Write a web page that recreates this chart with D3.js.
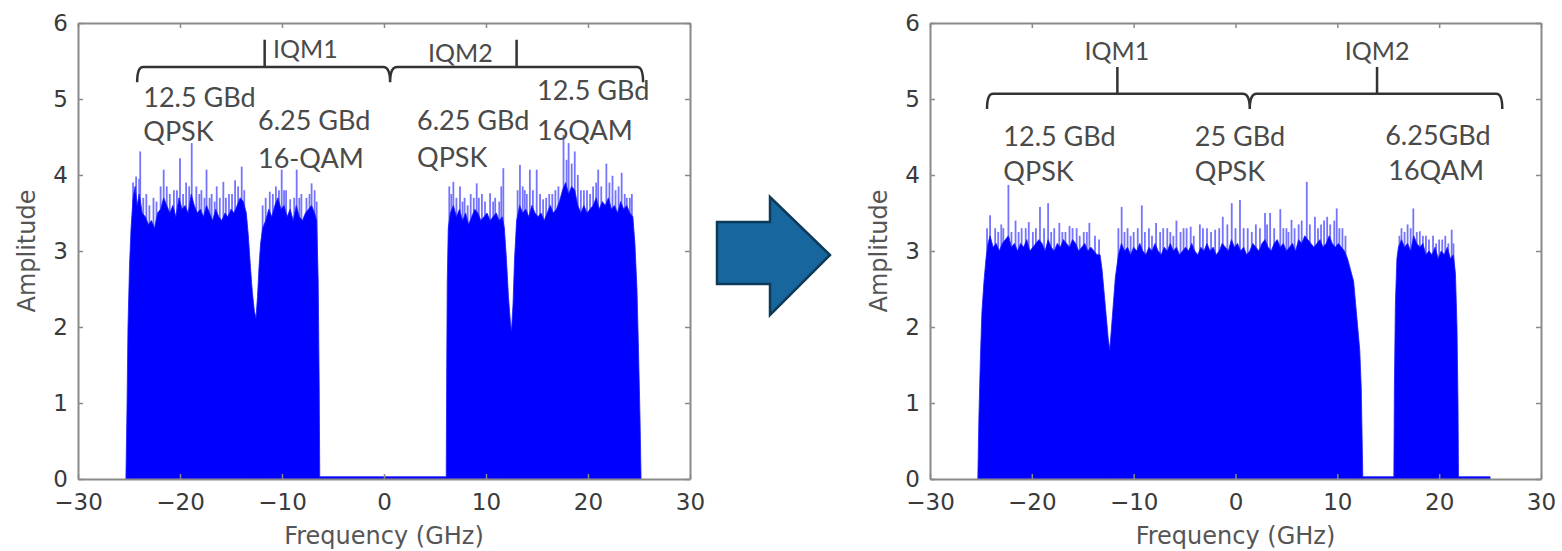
<!DOCTYPE html>
<html>
<head>
<meta charset="utf-8">
<script src="https://cdn.jsdelivr.net/npm/d3@7"></script>
<style>
  body { margin: 0; background: #fff; }
  svg { display: block; }
</style>
</head>
<body>
<div id="d3container"></div>
<script>
// axis ticks
var xTicks = [-30, -20, -10, 0, 10, 20, 30];
var yTicks = [0, 1, 2, 3, 4, 5, 6];

// left panel: spectrum body [GHz, amplitude]
var leftBody = [
    [-25.3,0.03],[-25.2,0.9],[-25.1,2.0],[-24.95,2.8],[-24.8,3.3],[-24.6,3.7],[-24.4,3.85],[-24.2,3.6],
    [-24.0,3.75],[-23.7,3.5],[-23.4,3.45],[-23.1,3.35],[-22.8,3.4],[-22.5,3.3],[-22.2,3.5],[-21.9,3.55],
    [-21.6,3.7],[-21.3,3.6],[-21.0,3.5],[-20.7,3.6],[-20.4,3.45],[-20.1,3.7],[-19.8,3.55],[-19.5,3.6],
    [-19.2,3.5],[-18.9,3.75],[-18.6,3.6],[-18.3,3.5],[-18.0,3.55],[-17.7,3.45],[-17.4,3.6],[-17.1,3.5],
    [-16.8,3.4],[-16.5,3.55],[-16.2,3.45],[-15.9,3.4],[-15.6,3.5],[-15.3,3.45],[-15.0,3.55],[-14.7,3.5],
    [-14.4,3.6],[-14.1,3.7],[-13.8,3.65],[-13.5,3.5],[-13.3,3.2],[-13.1,2.8],[-12.9,2.45],[-12.7,2.2],
    [-12.55,2.12],[-12.4,2.4],[-12.25,2.8],[-12.1,3.1],[-11.9,3.3],[-11.6,3.4],[-11.3,3.55],[-11.0,3.45],
    [-10.7,3.6],[-10.4,3.7],[-10.1,3.55],[-9.8,3.6],[-9.5,3.45],[-9.2,3.55],[-8.9,3.4],[-8.6,3.6],
    [-8.3,3.45],[-8.0,3.4],[-7.7,3.5],[-7.4,3.55],[-7.1,3.6],[-6.8,3.5],[-6.6,3.4],[-6.45,2.6],
    [-6.35,1.2],[-6.3,0.03],
    [6.1,0.03],[6.15,1.5],[6.2,2.6],[6.3,3.3],[6.5,3.5],[6.8,3.6],[7.1,3.45],[7.4,3.55],[7.7,3.4],
    [8.0,3.5],[8.3,3.35],[8.6,3.45],[8.9,3.55],[9.2,3.5],[9.5,3.4],[9.8,3.45],[10.1,3.5],[10.4,3.4],
    [10.7,3.45],[11.0,3.5],[11.3,3.4],[11.6,3.45],[11.8,3.3],[12.0,2.9],[12.2,2.4],[12.4,2.05],
    [12.5,1.95],[12.65,2.3],[12.8,2.9],[13.0,3.4],[13.3,3.6],[13.6,3.5],[13.9,3.55],[14.2,3.45],
    [14.5,3.6],[14.8,3.5],[15.1,3.45],[15.4,3.5],[15.7,3.4],[16.0,3.5],[16.3,3.6],[16.6,3.5],
    [16.9,3.55],[17.2,3.65],[17.5,3.8],[17.8,3.9],[18.1,3.75],[18.4,3.85],[18.7,3.8],[19.0,3.6],
    [19.3,3.5],[19.6,3.6],[19.9,3.5],[20.2,3.55],[20.5,3.6],[20.8,3.7],[21.1,3.55],[21.4,3.65],
    [21.7,3.6],[22.0,3.7],[22.3,3.55],[22.6,3.6],[22.9,3.5],[23.2,3.65],[23.5,3.55],[23.8,3.6],
    [24.1,3.5],[24.4,3.45],[24.6,3.1],[24.8,2.5],[24.95,1.7],[25.1,0.8],[25.2,0.03]
];

// left panel: narrow peaks above the body
var leftSpikes = [
    [-24.6,3.9],[-24.3,3.98],[-24.0,3.95],[-23.9,4.31],[-23.6,3.7],[-23.3,3.75],[-23.0,3.6],[-22.6,3.7],
    [-22.3,3.65],[-21.9,3.85],[-21.6,4.07],[-21.3,3.85],[-21.0,3.75],[-20.6,3.8],[-20.3,3.8],[-20.0,4.22],
    [-19.7,3.75],[-19.4,3.9],[-19.1,3.85],[-18.85,4.42],[-18.4,3.85],[-18.1,3.75],[-17.9,3.8],[-17.6,3.7],
    [-17.4,4.07],[-17.1,3.7],[-16.9,3.75],[-16.6,3.65],[-16.4,3.85],[-16.1,3.7],[-15.75,3.91],[-15.5,3.7],
    [-15.2,3.75],[-14.9,3.75],[-14.6,3.93],[-14.3,3.85],[-13.95,4.11],[-13.7,3.8],
    [-11.9,3.6],[-11.6,3.7],[-11.2,3.78],[-10.9,3.75],[-10.6,3.85],[-10.3,3.8],[-10.03,4.07],[-9.8,3.8],
    [-9.6,3.8],[-9.2,3.68],[-8.8,3.7],[-8.56,4.07],[-8.3,3.7],[-8.1,3.75],[-7.6,3.7],[-7.3,3.75],
    [-7.1,3.89],[-6.8,3.8],[-6.6,3.65],
    [6.4,3.85],[6.6,3.75],[6.8,3.91],[7.1,3.7],[7.45,3.85],[7.7,3.65],[7.9,3.7],[8.2,3.6],
    [8.5,3.75],[8.8,3.7],[9.09,3.89],[9.3,3.7],[9.6,3.75],[9.9,3.65],[10.4,3.76],[10.7,3.65],
    [10.9,3.7],[11.3,3.65],[11.5,3.85],[11.7,4.09],
    [13.1,3.8],[13.33,4.13],[13.6,3.85],[13.8,3.8],[14.0,3.75],[14.3,4.07],[14.6,3.8],[14.97,4.07],
    [15.3,3.75],[15.6,3.68],[15.9,3.7],[16.2,3.75],[16.5,3.75],[16.8,3.8],[17.1,3.85],[17.6,4.53],
    [17.9,4.2],[18.1,4.42],[18.4,4.15],[18.7,4.31],[19.0,4.0],[19.3,3.8],[19.6,3.8],[19.9,3.8],
    [20.2,3.75],[20.5,3.85],[20.8,3.9],[21.0,4.07],[21.3,3.85],[21.8,4.15],[22.1,3.9],[22.4,3.99],
    [22.7,3.8],[23.0,3.85],[23.3,4.03],[23.6,3.75],[23.8,3.7],[24.1,3.7],[24.3,3.75]
];

// right panel: spectrum body
var rightBody = [
    [-25.3,0.03],[-25.2,0.8],[-25.05,1.6],[-24.9,2.2],[-24.7,2.6],[-24.5,2.9],[-24.3,3.1],[-24.1,3.2],
    [-23.8,3.05],[-23.5,3.1],[-23.2,3.0],[-22.9,3.1],[-22.6,3.15],[-22.3,3.2],[-22.0,3.05],[-21.7,3.1],
    [-21.4,3.0],[-21.1,3.1],[-20.8,3.05],[-20.5,3.15],[-20.2,3.0],[-19.9,3.05],[-19.6,3.1],[-19.3,3.15],
    [-19.0,3.1],[-18.7,3.0],[-18.4,3.15],[-18.1,3.05],[-17.8,3.0],[-17.5,3.1],[-17.2,3.05],[-16.9,3.15],
    [-16.6,3.1],[-16.3,3.05],[-16.0,3.15],[-15.7,3.1],[-15.4,3.0],[-15.1,3.05],[-14.8,3.1],[-14.5,3.0],
    [-14.2,3.05],[-13.9,3.0],[-13.6,2.95],[-13.3,2.95],[-13.1,2.75],[-12.9,2.45],[-12.7,2.15],[-12.5,1.85],
    [-12.35,1.7],[-12.2,1.95],[-12.0,2.3],[-11.8,2.65],[-11.5,2.95],[-11.2,3.1],[-10.9,3.0],[-10.6,3.05],
    [-10.3,2.95],[-10.0,3.05],[-9.7,3.0],[-9.4,3.1],[-9.1,3.0],[-8.8,2.95],[-8.5,3.05],[-8.2,3.0],
    [-7.9,3.1],[-7.6,3.0],[-7.3,2.95],[-7.0,3.05],[-6.7,3.0],[-6.4,3.1],[-6.1,3.0],[-5.8,3.05],
    [-5.5,2.95],[-5.2,3.0],[-4.9,3.05],[-4.6,3.0],[-4.3,3.1],[-4.0,3.0],[-3.7,2.95],[-3.4,3.05],
    [-3.1,3.0],[-2.8,3.1],[-2.5,3.0],[-2.2,3.05],[-1.9,2.95],[-1.6,3.0],[-1.3,3.1],[-1.0,3.05],
    [-0.7,3.0],[-0.4,3.15],[-0.1,3.05],[0.2,3.1],[0.5,3.0],[0.8,3.05],[1.1,2.95],[1.4,3.0],
    [1.7,3.1],[2.0,3.05],[2.3,3.0],[2.6,3.1],[2.9,3.15],[3.2,3.05],[3.5,3.0],[3.8,3.1],
    [4.1,3.15],[4.4,3.05],[4.7,3.1],[5.0,3.0],[5.3,3.05],[5.6,3.1],[5.9,3.0],[6.2,3.15],
    [6.5,3.1],[6.8,3.2],[7.1,3.15],[7.4,3.1],[7.7,3.05],[8.0,3.1],[8.3,3.15],[8.6,3.05],
    [8.9,3.1],[9.2,3.2],[9.5,3.1],[9.8,3.05],[10.1,3.1],[10.4,3.05],[10.7,3.0],[11.0,2.9],
    [11.3,2.75],[11.6,2.6],[11.8,2.3],[12.0,2.0],[12.2,1.7],[12.35,1.2],[12.5,0.03],
    [15.55,0.03],[15.6,1.2],[15.7,2.3],[15.85,2.9],[16.0,3.05],[16.3,3.15],[16.6,3.05],[16.9,3.1],
    [17.2,3.0],[17.5,3.2],[17.8,3.1],[18.1,3.05],[18.4,3.1],[18.7,2.95],[19.0,3.0],[19.3,2.95],
    [19.6,3.05],[19.9,2.9],[20.2,3.0],[20.5,2.95],[20.8,3.05],[21.1,2.9],[21.4,2.95],[21.6,2.7],
    [21.75,2.0],[21.85,1.0],[21.9,0.03],[25.0,0.03]
];

var rightSpikes = [
    [-24.4,3.3],[-24.1,3.47],[-23.6,3.3],[-23.3,3.25],[-23.0,3.35],[-22.8,3.3],[-22.3,3.87],[-22.0,3.25],
    [-21.6,3.4],[-21.3,3.25],[-21.0,3.3],[-20.6,3.3],[-20.3,3.38],[-19.9,3.25],[-19.6,3.3],[-19.2,3.58],
    [-18.8,3.3],[-18.4,3.63],[-18.1,3.25],[-17.8,3.3],[-17.3,3.37],[-17.0,3.25],[-16.7,3.25],[-16.3,3.33],
    [-16.0,3.3],[-15.6,3.3],[-15.3,3.2],[-14.9,3.25],[-14.6,3.25],[-14.35,3.37],[-13.8,3.2],[-13.4,3.15],
    [-11.5,3.3],[-11.18,3.58],[-10.9,3.25],[-10.6,3.3],[-10.3,3.2],[-10.0,3.25],[-9.6,3.3],[-9.2,3.6],
    [-8.9,3.25],[-8.5,3.3],[-8.2,3.2],[-7.8,3.37],[-7.4,3.25],[-7.1,3.3],[-6.7,3.3],[-6.4,3.25],
    [-6.1,3.2],[-5.8,3.4],[-5.4,3.25],[-5.1,3.3],[-4.8,3.3],[-4.4,3.32],[-4.1,3.2],[-3.5,3.35],
    [-3.2,3.3],[-2.8,3.3],[-2.4,3.25],[-2.0,3.28],[-1.6,3.3],[-1.25,3.45],[-0.8,3.35],[-0.37,3.63],
    [0.0,3.3],[0.44,3.67],[0.8,3.3],[1.2,3.3],[1.6,3.25],[2.0,3.35],[2.4,3.3],[2.9,3.5],
    [3.1,3.35],[3.4,3.5],[3.8,3.3],[4.4,3.55],[4.7,3.3],[5.0,3.3],[5.2,3.25],[5.5,3.41],
    [5.8,3.3],[6.2,3.35],[6.5,3.4],[7.0,3.91],[7.3,3.35],[7.8,3.45],[8.1,3.3],[8.4,3.35],
    [8.7,3.4],[9.0,3.45],[9.3,3.35],[9.7,3.4],[9.94,3.56],[10.2,3.3],[10.5,3.3],[10.8,3.2],
    [16.1,3.2],[16.3,3.3],[16.6,3.25],[16.9,3.35],[17.2,3.3],[17.46,3.56],[17.8,3.25],[18.1,3.26],
    [18.4,3.2],[18.7,3.2],[19.0,3.15],[19.4,3.2],[19.7,3.1],[20.0,3.15],[20.3,3.15],[20.6,3.2],
    [20.9,3.1],[21.23,3.28],[21.4,3.1]
];

// annotations [GHz, amplitude, text]
var leftLabels = [
    [-23.6, 4.89, '12.5 GBd'], [-23.6, 4.45, 'QPSK'],
    [-12.35, 4.59, '6.25 GBd'], [-12.35, 4.09, '16-QAM'],
    [3.24, 4.59, '6.25 GBd'], [3.24, 4.10, 'QPSK'],
    [15.0, 4.99, '12.5 GBd'], [15.0, 4.46, '16QAM']
];
var rightLabels = [
    [-22.8, 4.38, '12.5 GBd'], [-22.8, 3.92, 'QPSK'],
    [-4.0, 4.38, '25 GBd'], [-4.0, 3.92, 'QPSK'],
    [14.7, 4.39, '6.25GBd'], [15.0, 3.93, '16QAM']
];

// braces: [start, IQM1 tick, split, IQM2 tick, end]
var leftBrace = [-24.2, -11.7, 0.6, 13.0, 25.4];
var rightBrace = [-24.4, -11.6, 1.4, 13.9, 26.2];

var W = 1562, H = 551;
var svg = d3.select('#d3container').append('svg')
    .attr('width', W).attr('height', H);

var tickFont = 'DejaVu Sans, sans-serif';
var noteFont = 'Lato, Open Sans, sans-serif';

function drawPanel(left, right, body, spikes, labels, brace, braceLevels, iqm) {
    var x = d3.scaleLinear().domain([-30, 30]).range([left, right]);
    var y = d3.scaleLinear().domain([0, 6]).range([479, 23]);
    var g = svg.append('g');

    // light peaks behind the solid body
    g.selectAll('line.spike').data(spikes).enter().append('line')
        .attr('class', 'spike')
        .attr('x1', function (d) { return x(d[0]); })
        .attr('x2', function (d) { return x(d[0]); })
        .attr('y1', y(2.5))
        .attr('y2', function (d) { return y(d[1]); })
        .attr('stroke', '#7474ff')
        .attr('stroke-width', 1.8);

    var area = d3.area()
        .x(function (d) { return x(d[0]); })
        .y0(y(0))
        .y1(function (d) { return y(d[1]); });
    g.append('path').attr('d', area(body))
        .attr('fill', '#0000ff')
        .attr('stroke', '#1a1aff')
        .attr('stroke-width', 0.8);

    // axes on all four sides, ticks pointing inward
    var axes = [
        d3.axisBottom(x).tickValues(xTicks).tickSizeInner(-5).tickSizeOuter(0).tickPadding(15),
        d3.axisLeft(y).tickValues(yTicks).tickSizeInner(-5).tickSizeOuter(0).tickPadding(10).tickFormat(d3.format('d')),
        d3.axisTop(x).tickValues(xTicks).tickSizeInner(-5).tickSizeOuter(0).tickFormat(''),
        d3.axisRight(y).tickValues(yTicks).tickSizeInner(-5).tickSizeOuter(0).tickFormat('')
    ];
    var shifts = ['translate(0,' + y(0) + ')', 'translate(' + left + ',0)',
                  'translate(0,' + y(6) + ')', 'translate(' + right + ',0)'];
    axes.forEach(function (a, i) {
        var ag = g.append('g').attr('transform', shifts[i]).call(a);
        ag.select('.domain').attr('stroke', '#8a8a8a').attr('stroke-width', 2);
        ag.selectAll('.tick line').attr('stroke', '#8a8a8a').attr('stroke-width', 1.5);
        ag.selectAll('.tick text')
            .attr('font-family', tickFont).attr('font-size', 23).attr('fill', '#3a3a3a');
    });

    g.append('text')
        .attr('x', (left + right) / 2).attr('y', 544)
        .attr('text-anchor', 'middle')
        .attr('font-family', tickFont).attr('font-size', 24).attr('fill', '#555')
        .text('Frequency (GHz)');
    g.append('text')
        .attr('transform', 'translate(' + (left - 51) + ',251) rotate(-90)')
        .attr('text-anchor', 'middle').attr('dy', '0.35em')
        .attr('font-family', tickFont).attr('font-size', 24).attr('fill', '#555')
        .text('Amplitude');

    // brace above both IQ modulators
    var lv = y(braceLevels[0]), cv = y(braceLevels[1]), tv = y(braceLevels[2]);
    var b = brace.map(x);
    var p = d3.path();
    p.moveTo(b[0], cv);
    p.quadraticCurveTo(b[0], lv, b[0] + 6, lv);
    p.lineTo(b[2] - 7, lv);
    p.quadraticCurveTo(b[2], lv, b[2], cv);
    p.quadraticCurveTo(b[2], lv, b[2] + 7, lv);
    p.lineTo(b[4] - 6, lv);
    p.quadraticCurveTo(b[4], lv, b[4], cv);
    p.moveTo(b[1], lv); p.lineTo(b[1], tv);
    p.moveTo(b[3], lv); p.lineTo(b[3], tv);
    g.append('path').attr('d', p.toString())
        .attr('fill', 'none').attr('stroke', '#333').attr('stroke-width', 2.5);

    iqm.forEach(function (d) {
        g.append('text')
            .attr('x', x(d[0])).attr('y', y(d[1]))
            .attr('text-anchor', d[3])
            .attr('font-family', noteFont).attr('font-size', 25).attr('fill', '#4a4a4a')
            .text(d[2]);
    });

    g.selectAll('text.note').data(labels).enter().append('text')
        .attr('class', 'note')
        .attr('x', function (d) { return x(d[0]); })
        .attr('y', function (d) { return y(d[1]); })
        .attr('font-family', noteFont).attr('font-size', 27).attr('fill', '#4a4a4a')
        .text(function (d) { return d[2]; });
}

drawPanel(78, 690, leftBody, leftSpikes, leftLabels, leftBrace, [5.42, 5.22, 5.78],
    [[-10.88, 5.54, 'IQM1', 'start'], [4.31, 5.49, 'IQM2', 'start']]);
drawPanel(930, 1541, rightBody, rightSpikes, rightLabels, rightBrace, [5.07, 4.87, 5.42],
    [[-11.64, 5.51, 'IQM1', 'middle'], [13.9, 5.51, 'IQM2', 'middle']]);

// block arrow between the panels
svg.append('path')
    .attr('d', 'M717,222 L770,222 L770,197 L830,255 L770,315 L770,284 L717,284 Z')
    .attr('fill', '#17669e')
    .attr('stroke', '#0e3a5a')
    .attr('stroke-width', 2.5)
    .attr('stroke-linejoin', 'miter');
</script>
</body>
</html>
